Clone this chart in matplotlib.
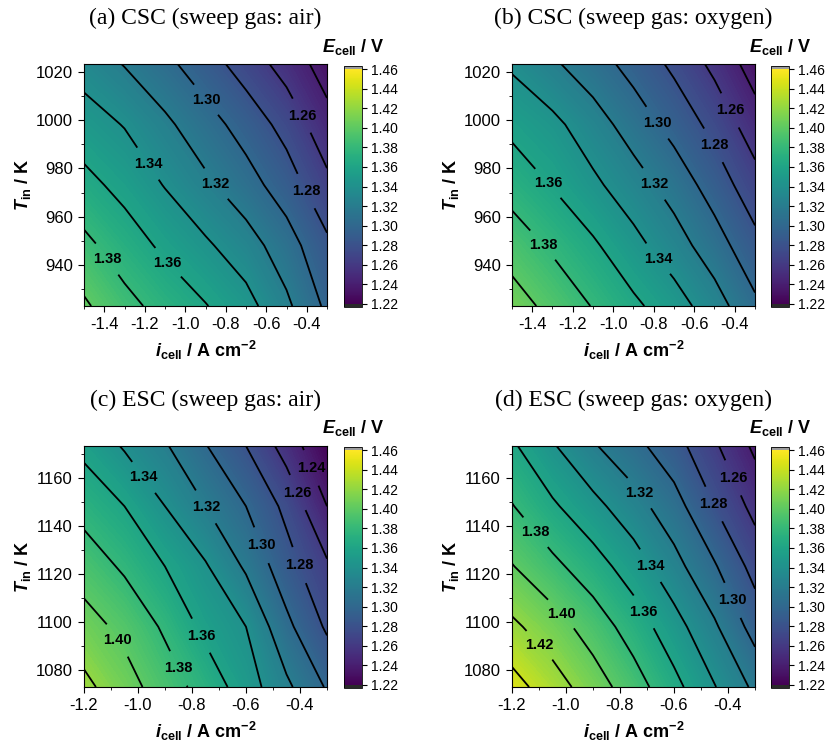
import numpy as np
import matplotlib
matplotlib.use("Agg")
import matplotlib.pyplot as plt
from matplotlib.colors import Normalize
from matplotlib.cm import ScalarMappable
from matplotlib.ticker import MultipleLocator

plt.rcParams['font.family'] = 'Liberation Sans'
plt.rcParams['axes.unicode_minus'] = False
plt.rcParams['mathtext.fontset'] = 'custom'
plt.rcParams['mathtext.rm'] = 'Liberation Sans'
plt.rcParams['mathtext.it'] = 'Liberation Sans:italic'
plt.rcParams['mathtext.bf'] = 'Liberation Sans:bold'
plt.rcParams['mathtext.bfit'] = 'Liberation Sans:bold:italic'

# grid axes (current density in A/cm2, inlet temperature in K)
i_csc = [-1.5, -1.3, -1.1, -0.9, -0.7, -0.5, -0.3]
T_csc = [923.15, 948.15, 973.15, 998.15, 1023.15]
i_esc = [-1.2, -1.05, -0.9, -0.75, -0.6, -0.45, -0.3]
T_esc = [1073.15, 1098.15, 1123.15, 1148.15, 1173.15]

# cell voltage, rows = T (low -> high), cols = i (low -> high)
E_csc_air = [
    [1.403, 1.386, 1.373, 1.361, 1.347, 1.324, 1.296],
    [1.385, 1.370, 1.356, 1.343, 1.329, 1.309, 1.284],
    [1.366, 1.354, 1.339, 1.324, 1.308, 1.290, 1.265],
    [1.349, 1.339, 1.324, 1.308, 1.292, 1.273, 1.247],
    [1.332, 1.319, 1.305, 1.289, 1.271, 1.252, 1.231],
]
E_csc_o2 = [
    [1.409, 1.394, 1.379, 1.364, 1.349, 1.329, 1.304],
    [1.391, 1.377, 1.363, 1.346, 1.329, 1.309, 1.286],
    [1.372, 1.359, 1.344, 1.329, 1.312, 1.291, 1.268],
    [1.355, 1.345, 1.329, 1.311, 1.293, 1.274, 1.249],
    [1.337, 1.323, 1.309, 1.293, 1.276, 1.255, 1.231],
]
E_esc_air = [
    [1.425, 1.408, 1.390, 1.372, 1.350, 1.324, 1.298],
    [1.408, 1.395, 1.377, 1.355, 1.340, 1.305, 1.277],
    [1.391, 1.377, 1.360, 1.342, 1.317, 1.288, 1.263],
    [1.373, 1.360, 1.340, 1.320, 1.300, 1.275, 1.240],
    [1.355, 1.338, 1.322, 1.301, 1.280, 1.252, 1.221],
]
E_esc_o2 = [
    [1.448, 1.429, 1.410, 1.389, 1.366, 1.341, 1.316],
    [1.424, 1.409, 1.391, 1.371, 1.348, 1.323, 1.292],
    [1.401, 1.385, 1.369, 1.350, 1.327, 1.302, 1.273],
    [1.381, 1.363, 1.346, 1.328, 1.308, 1.280, 1.254],
    [1.363, 1.342, 1.322, 1.306, 1.288, 1.263, 1.236],
]

E_levels = [1.22, 1.24, 1.26, 1.28, 1.30, 1.32, 1.34, 1.36, 1.38, 1.40, 1.42, 1.44, 1.46]
titles = ["(a) CSC (sweep gas: air)", "(b) CSC (sweep gas: oxygen)",
          "(c) ESC (sweep gas: air)", "(d) ESC (sweep gas: oxygen)"]

# where the contour labels sit (data coords)
label_spots = [
    [(-0.897, 1008.4), (-0.432, 1001.5), (-1.198, 981.2), (-0.844, 973.9),
     (-0.407, 970.5), (-1.380, 942.9), (-1.095, 940.4)],
    [(-0.416, 1004.3), (-0.786, 998.7), (-0.506, 989.5), (-1.322, 973.9),
     (-0.795, 973.9), (-1.347, 948.4), (-0.786, 942.2)],
    [(-0.977, 1160.3), (-0.356, 1164.2), (-0.417, 1153.4), (-0.755, 1147.5),
     (-0.547, 1131.8), (-0.411, 1123.4), (-0.773, 1094.1), (-1.088, 1091.6),
     (-0.853, 1080.7)],
    [(-0.380, 1160.0), (-0.714, 1154.8), (-0.448, 1149.3), (-1.120, 1136.7),
     (-0.689, 1123.4), (-0.387, 1108.9), (-1.017, 1103.6), (-0.714, 1104.2),
     (-1.094, 1090.9)],
]

panels = [
    (i_csc, T_csc, E_csc_air),
    (i_csc, T_csc, E_csc_o2),
    (i_esc, T_esc, E_esc_air),
    (i_esc, T_esc, E_esc_o2),
]

W, H = 829, 750
fig = plt.figure(figsize=(W / 100, H / 100), dpi=100)


def px_box(l, t, r, b):
    return [l / W, 1 - b / H, (r - l) / W, (b - t) / H]


ax_boxes = [(84, 64, 327, 306), (512, 64, 755, 306),
            (84, 446, 327, 687), (512, 446, 755, 687)]
cax_boxes = [(344, 66, 362, 307), (771, 66, 789, 307),
             (344, 447, 362, 688), (771, 447, 789, 688)]

cmap = plt.get_cmap('viridis').copy()
cmap.set_over('#9c9c9c')
cmap.set_under('#2a2a2a')
norm = Normalize(vmin=1.22, vmax=1.46)
fill_levels = np.linspace(1.22, 1.46, 121)

for k, (ii, TT, EE) in enumerate(panels):
    l, t, r, b = ax_boxes[k]
    ax = fig.add_axes(px_box(l, t, r, b))
    X, Y = np.meshgrid(ii, TT)
    Z = np.array(EE)
    ax.contourf(X, Y, Z, levels=fill_levels, cmap=cmap, norm=norm)
    cs = ax.contour(X, Y, Z, levels=E_levels, colors='black', linewidths=1.3)
    plt.rcParams['font.weight'] = 'bold'
    ax.clabel(cs, fmt='%.2f', fontsize=10.5, inline=True, inline_spacing=5,
              manual=label_spots[k])
    plt.rcParams['font.weight'] = 'normal'
    for txt in cs.labelTexts:
        txt.set_fontweight('bold')
        txt.set_rotation(0)

    ax.set_xlim(ii[0], ii[-1])
    ax.set_ylim(TT[0], TT[-1])
    ax.xaxis.set_major_locator(MultipleLocator(0.2))
    ax.xaxis.set_minor_locator(MultipleLocator(0.1))
    ax.yaxis.set_major_locator(MultipleLocator(20))
    ax.yaxis.set_minor_locator(MultipleLocator(10))
    ax.tick_params(which='major', direction='out', length=4, width=0.8,
                   labelsize=12, pad=4)
    ax.tick_params(which='minor', direction='out', length=2.5, width=0.6)
    ax.xaxis.set_major_formatter(plt.FuncFormatter(lambda v, p: f"{v:.1f}"))

    cx = (l + r) / 2
    fig.text(cx / W, 1 - (t - 46) / H, titles[k], family='Liberation Serif',
             fontsize=17, ha='center', va='center')
    fig.text(cx / W, 1 - (b + 44) / H, r"$\mathbfit{i}_{\mathbf{cell}}$ / A cm$^{\mathbf{-2}}$",
             fontsize=13, fontweight='bold', ha='center', va='center')
    fig.text((l - 61) / W, 1 - ((t + b) / 2) / H, r"$\mathbfit{T}_{\mathbf{in}}$ / K",
             fontsize=13, fontweight='bold', ha='center', va='center', rotation=90)

    cl, ct, cr, cb_ = cax_boxes[k]
    cax = fig.add_axes(px_box(cl, ct, cr, cb_))
    sm = ScalarMappable(norm=norm, cmap=cmap)
    cbar = fig.colorbar(sm, cax=cax, extend='both', extendrect=True,
                        extendfrac=0.014, ticks=E_levels)
    cbar.ax.yaxis.set_major_formatter(plt.FuncFormatter(lambda v, p: f"{v:.2f}"))
    cbar.ax.tick_params(labelsize=10, length=3.5, width=0.8, pad=3)
    cbar.outline.set_linewidth(0.6)
    fig.text(((cl + cr) / 2) / W, 1 - (ct - 19) / H, r"$\mathbfit{E}_{\mathbf{cell}}$ / V",
             fontsize=13, fontweight='bold', ha='center', va='center')

fig.savefig("out.png", dpi=100)
